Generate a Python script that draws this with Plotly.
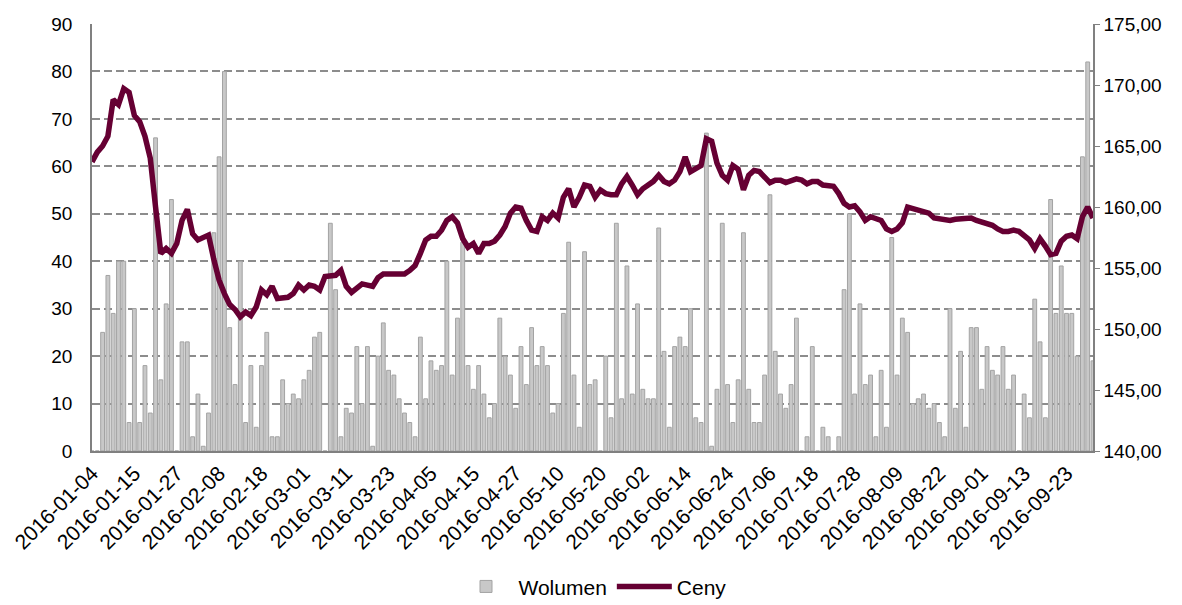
import pandas as pd
import plotly.graph_objects as go

BAR_COLOR = "#c8c8c8"
BAR_EDGE = "#a3a3a3"
LINE_COLOR = "#660033"
GRID_COLOR = "#8c8c8c"
FONT = "Liberation Sans, Arial, sans-serif"

# trading days Jan-Sep 2016 (exchange holidays removed)
holidays = ["2016-01-06", "2016-03-28", "2016-05-03", "2016-05-26", "2016-08-15"]
days = pd.bdate_range("2016-01-04", "2016-09-30")
dates = [d.strftime("%Y-%m-%d") for d in days if d.strftime("%Y-%m-%d") not in holidays]

volume = [
    0, 0, 25, 37, 29, 40, 40, 6, 30, 6,
    18, 8, 66, 15, 31, 53, 0, 23, 23, 3,
    12, 1, 8, 46, 62, 80, 26, 14, 40, 6,
    18, 5, 18, 25, 3, 3, 15, 10, 12, 11,
    15, 17, 24, 25, 0, 48, 34, 3, 9, 8,
    22, 10, 22, 1, 20, 27, 17, 16, 11, 8,
    6, 3, 24, 11, 19, 17, 18, 40, 16, 28,
    44, 18, 13, 18, 12, 7, 10, 28, 20, 16,
    9, 22, 14, 26, 18, 22, 18, 8, 10, 29,
    44, 16, 5, 42, 14, 15, 0, 20, 7, 48,
    11, 39, 12, 31, 13, 11, 11, 47, 21, 5,
    22, 24, 22, 30, 7, 6, 67, 1, 13, 48,
    14, 6, 15, 46, 13, 6, 6, 16, 54, 21,
    12, 9, 14, 28, 0, 3, 22, 0, 5, 3,
    0, 3, 34, 50, 12, 31, 14, 16, 3, 17,
    5, 45, 16, 28, 25, 10, 11, 12, 9, 10,
    6, 3, 30, 9, 21, 5, 26, 26, 13, 22,
    17, 16, 22, 13, 16, 0, 12, 7, 32, 23,
    7, 53, 29, 39, 29, 29, 20, 62, 82, 19,
]

price = [
    163.7, 164.5, 165.0, 165.8, 168.8, 168.4, 169.7, 169.4, 167.5, 167.0,
    165.8, 164.0, 160.0, 156.2, 156.6, 156.2, 157.0, 158.9, 159.8, 157.8,
    157.3, 157.5, 157.7, 155.7, 154.0, 152.9, 152.0, 151.6, 151.0, 151.4,
    151.1, 151.8, 153.2, 152.8, 153.5, 152.5, 152.5, 152.6, 152.9, 153.6,
    153.2, 153.6, 153.5, 153.2, 154.3, 154.4, 154.4, 154.8, 153.5, 153.0,
    153.3, 153.7, 153.6, 153.5, 154.2, 154.5, 154.5, 154.5, 154.5, 154.5,
    154.8, 155.2, 156.2, 157.3, 157.6, 157.6, 158.1, 158.9, 159.2, 158.7,
    157.4, 156.7, 157.0, 156.2, 157.0, 157.0, 157.2, 157.7, 158.4, 159.5,
    160.0, 159.9, 158.9, 158.1, 158.0, 159.2, 158.9, 159.5, 159.1, 160.8,
    161.5, 160.0, 160.8, 161.8, 161.7, 160.8, 161.4, 161.1, 161.0, 161.0,
    161.9, 162.5, 161.8, 161.0, 161.5, 161.8, 162.1, 162.6, 162.1, 161.9,
    162.2, 162.9, 164.1, 162.9, 163.2, 163.4, 165.6, 165.4, 163.6, 162.6,
    162.2, 163.4, 163.1, 161.4, 162.6, 163.0, 162.9, 162.5, 162.0, 162.2,
    162.2, 162.0, 162.1, 162.3, 162.2, 161.9, 162.1, 162.1, 161.8, 161.7,
    161.7, 161.1, 160.3, 160.0, 160.1, 159.6, 158.9, 159.2, 159.1, 158.9,
    158.2, 158.0, 158.2, 158.7, 160.0, 159.9, 159.8, 159.6, 159.5, 159.1,
    159.0, 159.0, 158.9, 159.0, 159.0, 159.0, 159.1, 158.9, 158.8, 158.7,
    158.5, 158.2, 158.0, 158.0, 158.1, 158.0, 157.7, 157.3, 156.6, 157.4,
    156.8, 156.1, 156.2, 157.2, 157.6, 157.7, 157.4, 159.2, 160.0, 159.1,
]

left_ticks = list(range(0, 91, 10))
right_ticks = list(range(140, 176, 5))
right_labels = [f"{v},00" for v in right_ticks]
x_ticks = dates[::8]

fig = go.Figure()
fig.add_trace(go.Bar(
    x=dates, y=volume, name="Wolumen",
    marker=dict(color=BAR_COLOR, line=dict(color=BAR_EDGE, width=1)),
    width=0.72,
))
fig.add_trace(go.Scatter(
    x=dates, y=price, name="Ceny", yaxis="y2", mode="lines",
    line=dict(color=LINE_COLOR, width=5.5),
))

# page body adds an 8px offset, so the figure is sized to fit the window
fig.update_layout(
    width=1174, height=597,
    margin=dict(l=84, r=89, t=16, b=154, autoexpand=False),
    paper_bgcolor="white", plot_bgcolor="white",
    font=dict(family=FONT, size=19, color="black"),
    showlegend=True,
    legend=dict(orientation="h", x=0.5, xanchor="center", y=-0.318, yanchor="middle",
                font=dict(size=21), itemwidth=55, tracegroupgap=0),
    bargap=0.3,
    xaxis=dict(
        type="category", range=[0, len(dates) - 1],
        tickmode="array", tickvals=x_ticks, ticktext=x_ticks,
        tickangle=-45, showgrid=False, showline=True, linecolor="#808080",
        linewidth=1.5, ticks="", automargin=False, tickfont=dict(size=21),
    ),
    yaxis=dict(
        range=[0, 90], tickvals=left_ticks, showgrid=True, gridcolor=GRID_COLOR,
        griddash="8px,4px", gridwidth=1.5, showline=True, linecolor="#808080",
        linewidth=1.5, zeroline=False, ticks="", automargin=False,
        ticklabelstandoff=14,
    ),
    yaxis2=dict(
        range=[140, 175], overlaying="y", side="right", tickvals=right_ticks,
        ticktext=right_labels, showgrid=False, showline=True, linecolor="#808080",
        linewidth=1.5, ticks="outside", ticklen=5, tickcolor="#808080",
        zeroline=False, automargin=False,
    ),
)

fig.write_html("out.html")
